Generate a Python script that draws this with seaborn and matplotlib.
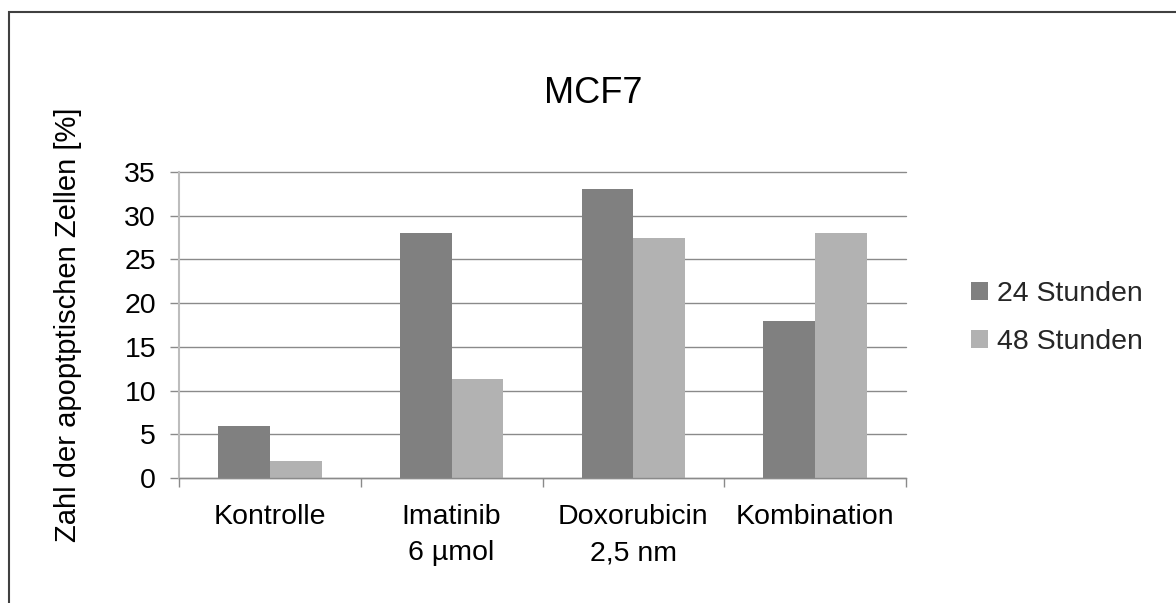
import matplotlib
matplotlib.use("Agg")
import matplotlib.pyplot as plt
import seaborn as sns
import pandas as pd
from matplotlib.patches import Rectangle

# ---- data ----
categories = ["Kontrolle", "Imatinib\n6 µmol", "Doxorubicin\n2,5 nm", "Kombination"]
series_names = ["24 Stunden", "48 Stunden"]
values_24h = [6, 28, 33, 18]
values_48h = [2, 11.3, 27.5, 28]
y_ticks = [0, 5, 10, 15, 20, 25, 30, 35]
title = "MCF7"
y_label = "Zahl der apoptptischen Zellen [%]"

df = pd.DataFrame({
    "Behandlung": categories * 2,
    "Zeit": [series_names[0]] * len(categories) + [series_names[1]] * len(categories),
    "Wert": values_24h + values_48h,
})

sns.set_theme(style="white")
plt.rcParams["font.family"] = ["Liberation Sans", "DejaVu Sans"]

W, H = 1176, 603
fig = plt.figure(figsize=(W / 100, H / 100), dpi=100)
ax = fig.add_axes([179 / W, 1 - 478 / H, (906 - 179) / W, (478 - 172) / H])

dark, light = "#808080", "#B2B2B2"
sns.barplot(data=df, x="Behandlung", y="Wert", hue="Zeit", order=categories,
            hue_order=series_names, palette=[dark, light], saturation=1,
            width=0.57, gap=0, ax=ax, linewidth=0)

handles, labels = ax.get_legend_handles_labels()
if ax.legend_ is not None:
    ax.legend_.remove()

ax.set_ylim(0, 35)
ax.set_xlim(-0.5, len(categories) - 0.5)
ax.set_yticks(y_ticks)
ax.set_yticklabels([str(v) for v in y_ticks])
ax.yaxis.grid(True, color="#8A8A8A", linewidth=1.0)
ax.xaxis.grid(False)
for gl in ax.get_ygridlines():
    gl.set_clip_on(False)
ax.set_axisbelow(True)

# x: boundary tick marks (major) and centered labels (minor)
ax.set_xticks([i - 0.5 for i in range(len(categories) + 1)])
ax.set_xticklabels([""] * (len(categories) + 1))
ax.set_xticks(list(range(len(categories))), minor=True)
ax.set_xticklabels(categories, minor=True)
ax.tick_params(axis="x", which="major", direction="out", length=6.5, width=1,
               color="#8A8A8A", bottom=True)
ax.tick_params(axis="x", which="minor", length=0, pad=19, labelsize=20.5,
               labelcolor="black")
for t in ax.get_xticklabels(minor=True):
    t.set_linespacing(1.5)
ax.tick_params(axis="y", which="major", direction="out", length=6.5, width=1,
               color="#8A8A8A", pad=10, labelsize=20.5, left=True,
               labelcolor="black")

for s in ["top", "right"]:
    ax.spines[s].set_visible(False)
ax.spines["left"].set_color("#BDBDBD")
ax.spines["left"].set_linewidth(1.5)
ax.spines["bottom"].set_color("#8A8A8A")
ax.spines["bottom"].set_linewidth(1.0)

ax.set_xlabel("")
ax.set_ylabel(y_label, fontsize=21, color="black")
ax.yaxis.set_label_coords(-0.133, 0.5)

fig.text(593 / W, 1 - 103 / H, title, ha="center", va="baseline",
         fontsize=26, color="black")

fig.legend(handles, labels, loc="center left",
           bbox_to_anchor=(971 / W, 1 - 318 / H), frameon=False,
           fontsize=20.5, handlelength=0.6, handleheight=0.6,
           handletextpad=0.32, labelspacing=0.8, borderpad=0,
           borderaxespad=0)

# chart border (right/bottom edges lie outside the picture)
fig.patches.append(Rectangle((9 / W, -0.1), 1.2, 1 - 12 / H + 0.1,
                             transform=fig.transFigure, fill=False,
                             edgecolor="#404040", linewidth=1.5))

fig.savefig("out.png", dpi=100)
